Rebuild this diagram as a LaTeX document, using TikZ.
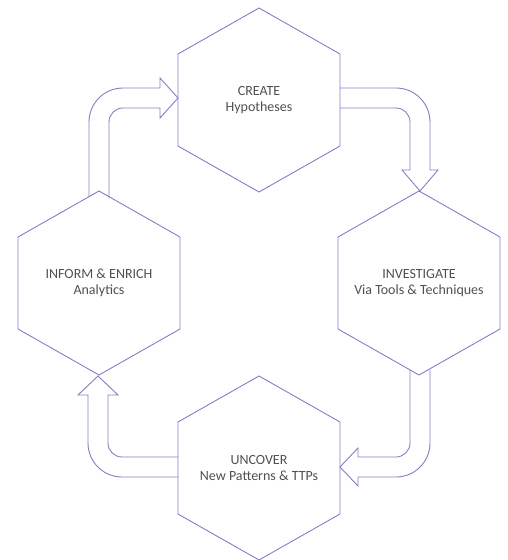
\documentclass[tikz,border=0pt]{standalone}
\usepackage{fontspec}
\setmainfont{Carlito}
\definecolor{hexline}{RGB}{140,122,196}
\definecolor{hextext}{RGB}{80,80,80}
\tikzset{
  hexlabel/.style={inner sep=0pt, text=hextext, font=\fontsize{14}{15.5}\selectfont, align=center},
  hexborder/.style={draw=hexline, line width=0.9pt, line join=miter},
  blockarrow/.style={draw=hexline, line width=0.9pt, line join=miter}
}
\begin{document}
\begin{tikzpicture}[x=1pt,y=-1pt]
\useasboundingbox (0,0) rectangle (508,560);
\node[hexlabel] (create) at (259,100) {CREATE\\Hypotheses};
\node[hexlabel] (invest) at (419,283) {INVESTIGATE\\Via Tools \& Techniques};
\node[hexlabel] (uncover) at (259,468) {UNCOVER\\New Patterns \& TTPs};
\node[hexlabel] (inform) at (99,283) {INFORM \& ENRICH\\Analytics};
\foreach \n in {create,invest,uncover,inform}
  \draw[hexborder] (\n.center) ++(0,-92) -- ++(81,46) -- ++(0,92) -- ++(-81,46)
    -- ++(-81,-46) -- ++(0,-92) -- cycle;
% top-left arrow: inform -> create
\draw[blockarrow] (89,197) -- (89,122) .. controls (89,103.2) and (104.2,88) .. (123,88)
  -- (160,88) -- (160,78) -- (178,98) -- (160,118) -- (160,108) -- (123,108)
  .. controls (115.3,108) and (109,114.3) .. (109,122) -- (109,198);
% top-right arrow: create -> investigate
\draw[blockarrow] (340,88) -- (396,88) .. controls (414.8,88) and (430,103.2) .. (430,122)
  -- (430,170) -- (438,170) -- (420,191) -- (402,170) -- (410,170) -- (410,122)
  .. controls (410,114.3) and (403.7,108) .. (396,108) -- (340,108);
% bottom-right arrow: investigate -> uncover
\draw[blockarrow] (430,370) -- (430,443) .. controls (430,461.8) and (414.8,477) .. (396,477)
  -- (358,477) -- (358,486) -- (340,467) -- (358,448) -- (358,457) -- (396,457)
  .. controls (403.7,457) and (410,450.7) .. (410,443) -- (410,370);
% bottom-left arrow: uncover -> inform
\draw[blockarrow] (178,477) -- (122,477) .. controls (103.2,477) and (88,461.8) .. (88,443)
  -- (88,395) -- (78,395) -- (98,376) -- (118,395) -- (108,395) -- (108,443)
  .. controls (108,450.7) and (114.3,457) .. (122,457) -- (178,457);
\end{tikzpicture}
\end{document}
